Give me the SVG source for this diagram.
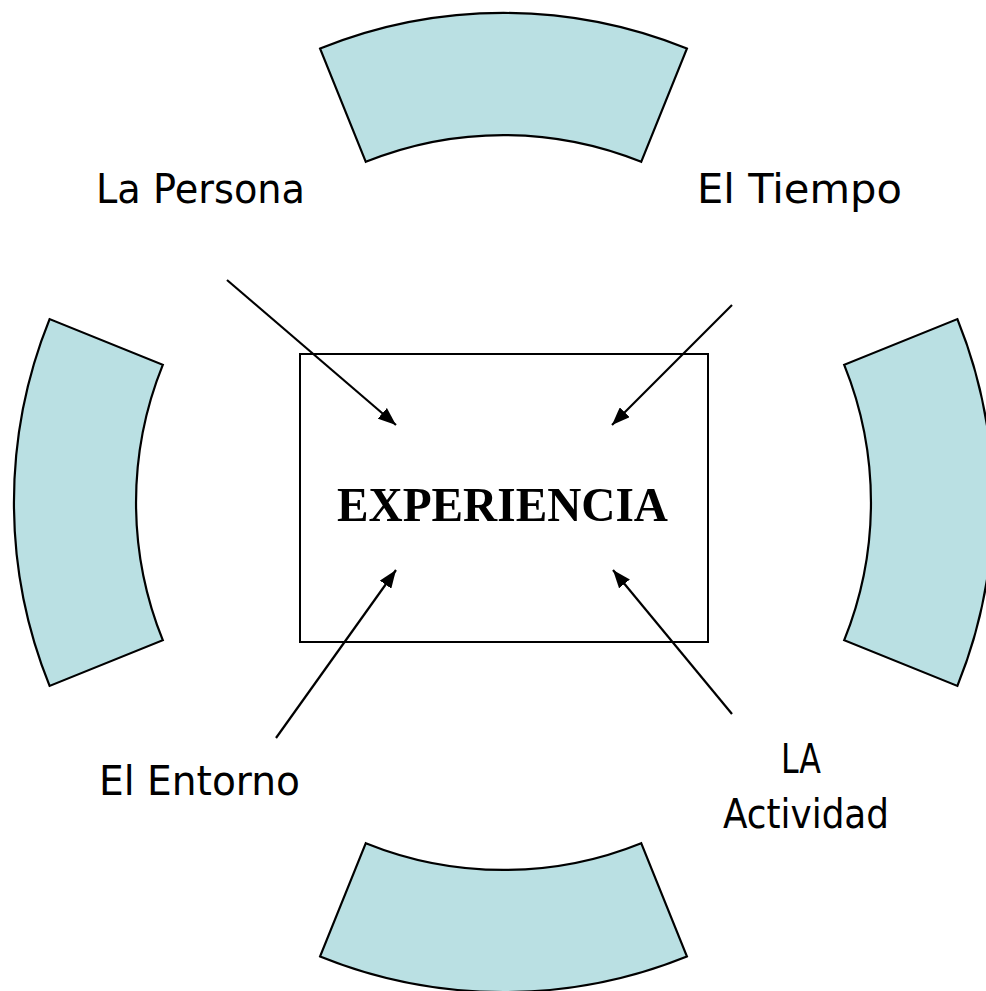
<svg xmlns="http://www.w3.org/2000/svg" width="986" height="991" viewBox="0 0 986 991">
<defs>
<style>
.seg{fill:#BAE0E3;stroke:#000;stroke-width:2.2;stroke-linejoin:miter}
.lbl{font-family:"DejaVu Sans","Liberation Sans",sans-serif;font-size:40px;fill:#000}
.main{font-family:"Liberation Serif","Times New Roman",serif;font-weight:bold;font-size:49px;fill:#000}
.arr{stroke:#000;stroke-width:2.2;fill:none;marker-end:url(#ah)}
</style>
<marker id="ah" markerUnits="userSpaceOnUse" markerWidth="20" markerHeight="14" refX="18" refY="7" orient="auto">
<path d="M0,0 L18,7 L0,14 Z" fill="#000"/>
</marker>
</defs>
<rect width="986" height="991" fill="#fff"/>
<g id="seg-top"><path class="seg" d="M320.1 48.6 A489.5 489.5 0 0 1 686.9 48.6 L641.2 161.8 A367.5 367.5 0 0 0 365.8 161.8 Z"/></g>
<g id="seg-bottom"><path class="seg" d="M320.1 956.4 A489.5 489.5 0 0 0 686.9 956.4 L641.2 843.2 A367.5 367.5 0 0 1 365.8 843.2 Z"/></g>
<g id="seg-left"><path class="seg" d="M49.6 319.1 A489.5 489.5 0 0 0 49.6 685.9 L162.8 640.2 A367.5 367.5 0 0 1 162.8 364.8 Z"/></g>
<g id="seg-right"><path class="seg" d="M957.4 319.1 A489.5 489.5 0 0 1 957.4 685.9 L844.2 640.2 A367.5 367.5 0 0 0 844.2 364.8 Z"/></g>
<g id="experiencia">
<rect x="300" y="354" width="408" height="288" fill="#fff" stroke="#000" stroke-width="2"/>
<text class="main" x="502.5" y="521" text-anchor="middle" textLength="331" lengthAdjust="spacingAndGlyphs">EXPERIENCIA</text>
</g>
<g id="la-persona"><text class="lbl" x="96" y="203" textLength="209" lengthAdjust="spacingAndGlyphs">La Persona</text></g>
<g id="el-tiempo"><text class="lbl" x="697" y="203" textLength="205" lengthAdjust="spacingAndGlyphs">El Tiempo</text></g>
<g id="el-entorno"><text class="lbl" x="99" y="795" textLength="201" lengthAdjust="spacingAndGlyphs">El Entorno</text></g>
<g id="la-actividad">
<text class="lbl" x="781" y="773" textLength="40" lengthAdjust="spacingAndGlyphs">LA</text>
<text class="lbl" x="723" y="828" textLength="166" lengthAdjust="spacingAndGlyphs">Actividad</text>
</g>
<g id="connectors">
<line class="arr" x1="227" y1="280" x2="396" y2="425"/>
<line class="arr" x1="732" y1="305" x2="612" y2="425"/>
<line class="arr" x1="276" y1="738" x2="396" y2="570"/>
<line class="arr" x1="732" y1="714" x2="613" y2="570"/>
</g>
</svg>
